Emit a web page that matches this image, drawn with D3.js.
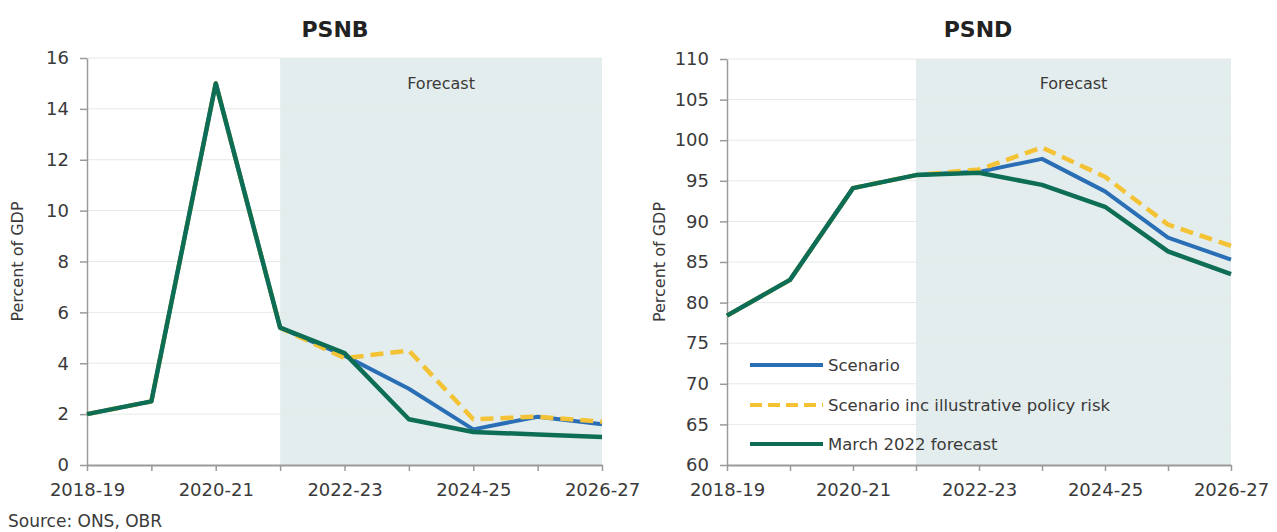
<!DOCTYPE html>
<html>
<head>
<meta charset="utf-8">
<script src="https://cdn.jsdelivr.net/npm/d3@7"></script>
<style>
  html, body { margin: 0; padding: 0; background: #fff; }
  svg { display: block; font-family: "DejaVu Sans", sans-serif; }
</style>
</head>
<body>
<svg id="chart" width="1277" height="532"></svg>
<script>
// ---- Data ----
const years = ["2018-19","2019-20","2020-21","2021-22","2022-23","2023-24","2024-25","2025-26","2026-27"];
const xTickLabels = ["2018-19","2020-21","2022-23","2024-25","2026-27"];
const forecastStart = "2021-22";
const forecastEnd = "2026-27";

const psnbTicks = [0,2,4,6,8,10,12,14,16];
const psnbScenario   = [2.0, 2.5, 15.0, 5.4, 4.3, 3.0, 1.4, 1.9, 1.6];
const psnbPolicyRisk = [2.0, 2.5, 15.0, 5.4, 4.2, 4.5, 1.8, 1.9, 1.7];
const psnbMarch      = [2.0, 2.5, 15.0, 5.4, 4.4, 1.8, 1.3, 1.2, 1.1];

const psndTicks = [60,65,70,75,80,85,90,95,100,105,110];
const psndScenario   = [78.4, 82.8, 94.1, 95.7, 96.1, 97.7, 93.7, 88.0, 85.3];
const psndPolicyRisk = [78.4, 82.8, 94.1, 95.7, 96.4, 99.1, 95.5, 89.6, 87.0];
const psndMarch      = [78.4, 82.8, 94.1, 95.7, 96.0, 94.5, 91.8, 86.3, 83.5];

const seriesNames = ["Scenario", "Scenario inc illustrative policy risk", "March 2022 forecast"];
const seriesColors = ["#2a6fb6", "#f3c335", "#0d6e55"];

// ---- Layout ----
const svg = d3.select("#chart");
const textColor = "#3a3a3a";
const axisColor = "#9a9a9a";

const panels = [
  { title: "PSNB", titleX: 335, left: 87, right: 602, top: 58, bottom: 465,
    domain: [0, 16], ticks: psnbTicks, yTitleX: 23,
    series: [psnbScenario, psnbPolicyRisk, psnbMarch], legend: false },
  { title: "PSND", titleX: 978, left: 727, right: 1231, top: 59, bottom: 465,
    domain: [60, 110], ticks: psndTicks, yTitleX: 665,
    series: [psndScenario, psndPolicyRisk, psndMarch], legend: true }
];

panels.forEach(p => {
  const g = svg.append("g");
  const x = d3.scalePoint().domain(years).range([p.left, p.right]);
  const y = d3.scaleLinear().domain(p.domain).range([p.bottom, p.top]);

  // forecast shading
  g.append("rect")
    .attr("x", x(forecastStart)).attr("y", p.top)
    .attr("width", x(forecastEnd) - x(forecastStart))
    .attr("height", p.bottom - p.top)
    .attr("fill", "#e4eded");

  // gridlines
  g.append("g").selectAll("line").data(p.ticks.slice(1)).join("line")
    .attr("x1", p.left).attr("x2", p.right)
    .attr("y1", d => y(d)).attr("y2", d => y(d))
    .attr("stroke", "#e6e9e9").attr("stroke-width", 1);

  // Forecast label
  g.append("text")
    .attr("x", (x(forecastStart) + x(forecastEnd)) / 2)
    .attr("y", 89)
    .attr("text-anchor", "middle")
    .attr("font-size", 16).attr("fill", textColor)
    .text("Forecast");

  // y axis
  const yAxis = g.append("g")
    .attr("transform", `translate(${p.left},0)`)
    .call(d3.axisLeft(y).tickValues(p.ticks).tickSize(7).tickPadding(11).tickSizeOuter(0));
  yAxis.select(".domain").attr("stroke", axisColor).attr("stroke-width", 1.5);
  yAxis.selectAll(".tick line").attr("stroke", axisColor).attr("stroke-width", 1.5);
  yAxis.selectAll(".tick text").attr("font-size", 18).attr("fill", textColor)
    .attr("font-family", "DejaVu Sans, sans-serif");

  // x axis
  const xAxis = g.append("g")
    .attr("transform", `translate(0,${p.bottom})`)
    .call(d3.axisBottom(x).tickSize(6).tickPadding(12).tickSizeOuter(0)
      .tickFormat(d => xTickLabels.includes(d) ? d : ""));
  xAxis.select(".domain").attr("stroke", axisColor).attr("stroke-width", 2);
  xAxis.selectAll(".tick line").attr("stroke", axisColor).attr("stroke-width", 1.5);
  xAxis.selectAll(".tick text").attr("font-size", 18).attr("fill", textColor)
    .attr("font-family", "DejaVu Sans, sans-serif");

  // y title
  g.append("text")
    .attr("transform", `translate(${p.yTitleX},${(p.top + p.bottom) / 2}) rotate(-90)`)
    .attr("text-anchor", "middle")
    .attr("font-size", 16).attr("fill", textColor)
    .text("Percent of GDP");

  // panel title
  g.append("text")
    .attr("x", p.titleX).attr("y", 37)
    .attr("text-anchor", "middle")
    .attr("font-size", 22).attr("font-weight", "bold").attr("fill", "#222")
    .text(p.title);

  // lines
  const line = d3.line().x((d, i) => x(years[i])).y(d => y(d));
  [0, 1, 2].forEach(k => {
    g.append("path")
      .datum(p.series[k])
      .attr("d", line)
      .attr("fill", "none")
      .attr("stroke", seriesColors[k])
      .attr("stroke-width", k === 2 ? 4.5 : (k === 1 ? 4.5 : 4))
      .attr("stroke-dasharray", k === 1 ? "13,7" : null)
      .attr("stroke-linejoin", "round");
  });

  if (p.legend) {
    const ly = [365, 405, 444];
    const lg = g.append("g");
    seriesNames.forEach((name, k) => {
      lg.append("line")
        .attr("x1", 750).attr("x2", 823)
        .attr("y1", ly[k]).attr("y2", ly[k])
        .attr("stroke", seriesColors[k]).attr("stroke-width", 4)
        .attr("stroke-dasharray", k === 1 ? "12,6" : null);
      lg.append("text")
        .attr("x", 828).attr("y", ly[k] + 6)
        .attr("font-size", 16.5).attr("fill", textColor)
        .text(name);
    });
  }
});

// source
svg.append("text")
  .attr("x", 8).attr("y", 527)
  .attr("font-size", 17).attr("fill", textColor)
  .text("Source: ONS, OBR");
</script>
</body>
</html>
